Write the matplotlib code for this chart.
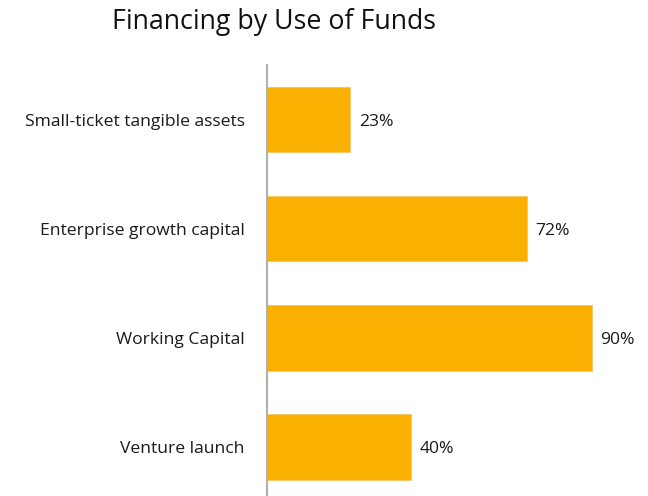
import matplotlib.pyplot as plt

plt.rcParams['font.family'] = ['Open Sans', 'DejaVu Sans']

categories = ['Small-ticket tangible assets', 'Enterprise growth capital',
              'Working Capital', 'Venture launch']
shares = [23, 72, 90, 40]

fig = plt.figure(figsize=(6.48, 4.96), dpi=100)
ax = fig.add_axes([0.412, -0.011, 0.557, 0.880])

ypos = list(range(len(categories)))
ax.barh(ypos, shares, height=0.6, color='#F9B000', edgecolor='#F4C46A', linewidth=0.6)
for y, v in zip(ypos, shares):
    ax.text(v + 2.4, y + 0.02, f'{v}%', va='center', ha='left', fontsize=12.6, color='#1a1a1a')

ax.set_yticks(ypos)
ax.set_yticklabels(categories, fontsize=12.6, color='#1a1a1a')
ax.tick_params(axis='y', length=0, pad=16)
ax.set_xticks([])
ax.set_xlim(0, 100)
ax.set_ylim(len(categories) - 0.5, -0.5)
for s in ['top', 'right', 'bottom']:
    ax.spines[s].set_visible(False)
ax.spines['left'].set_color('#B0B0B0')
ax.spines['left'].set_linewidth(1.5)

fig.text(0.423, 0.956, 'Financing by Use of Funds', ha='center', va='center',
         fontsize=19.3, color='#111111')

fig.savefig('out.png', dpi=100)
